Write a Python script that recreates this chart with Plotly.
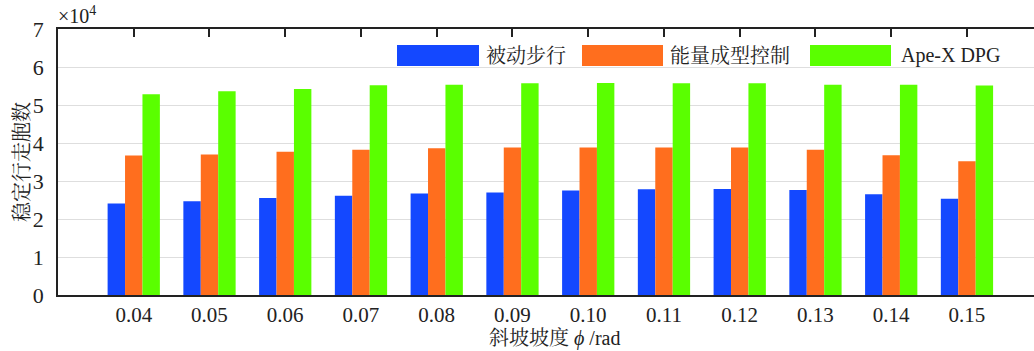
import plotly.graph_objects as go

# ---- data (units of 10^4 runs) ----
slopes = ["0.04", "0.05", "0.06", "0.07", "0.08", "0.09", "0.10", "0.11", "0.12", "0.13", "0.14", "0.15"]
passive = [2.41, 2.47, 2.55, 2.61, 2.67, 2.70, 2.75, 2.78, 2.79, 2.76, 2.65, 2.53]
energy = [3.67, 3.70, 3.77, 3.82, 3.86, 3.88, 3.88, 3.88, 3.88, 3.82, 3.68, 3.52]
apex = [5.28, 5.36, 5.42, 5.52, 5.53, 5.57, 5.58, 5.57, 5.57, 5.53, 5.53, 5.51]
series_names = ["被动步行", "能量成型控制", "Ape-X DPG"]
y_ticks = [0, 1, 2, 3, 4, 5, 6, 7]

colors = ["#1448FF", "#FF6E1E", "#5AFF00"]
FONT = "Liberation Serif, 'Noto Serif CJK SC', 'Noto Sans CJK SC', serif"

W, H = 1034, 351
L, R, T, B = 58, 0, 29, 56
pw, ph = W - L - R, H - T - B

fig = go.Figure()
for name, vals, c in zip(series_names, [passive, energy, apex], colors):
    fig.add_trace(go.Bar(x=slopes, y=vals, name=name, marker=dict(color=c, line=dict(width=0)),
                         showlegend=False, hoverinfo="skip"))

fig.update_layout(
    width=W, height=H,
    margin=dict(l=L, r=R, t=T, b=B, pad=0),
    paper_bgcolor="white", plot_bgcolor="white",
    barmode="group", bargap=0.31, bargroupgap=0,
    font=dict(family=FONT, size=20, color="#222"),
    showlegend=False,
    xaxis=dict(type="category", range=[-1.0, 11.885], showline=True, linecolor="#222", linewidth=1.5,
               mirror="ticks", ticks="inside", ticklen=8, tickwidth=1.5, tickcolor="#222",
               layer="below traces", showgrid=False, tickfont=dict(size=21), automargin=False),
    yaxis=dict(range=[0, 7], tickvals=y_ticks, ticktext=[str(v) for v in y_ticks],
               showline=True, linecolor="#222", linewidth=1.5, ticks="", showgrid=True,
               gridcolor="#dedede", gridwidth=1, zeroline=False, layer="below traces",
               tickfont=dict(size=22), ticklabelstandoff=8, automargin=False),
)

def px_x(p):
    return (p - L) / pw

def px_y(p):
    return (H - B - p) / ph

# custom legend (wide colour boxes)
legend_px = [(397, 479, 484), (582, 663, 668), (810, 891, 899)]
for (x0, x1, tx), name, c in zip(legend_px, series_names, colors):
    fig.add_shape(type="rect", xref="paper", yref="paper", x0=px_x(x0), x1=px_x(x1),
                  y0=px_y(66), y1=px_y(45), fillcolor=c, line=dict(width=0))
    fig.add_annotation(xref="paper", yref="paper", x=px_x(tx), y=px_y(55.5), text=name,
                       showarrow=False, xanchor="left", yanchor="middle", font=dict(size=20))

# axis titles and exponent
fig.add_annotation(xref="paper", yref="paper", x=px_x(554), y=px_y(339), text="斜坡坡度 <i>ϕ</i> /rad",
                   showarrow=False, xanchor="center", yanchor="middle", font=dict(size=20))
fig.add_annotation(xref="paper", yref="paper", x=px_x(22), y=px_y(162), text="稳定行走胞数",
                   showarrow=False, textangle=-90, xanchor="center", yanchor="middle", font=dict(size=20))
fig.add_annotation(xref="paper", yref="paper", x=px_x(56), y=px_y(15), text="×10<sup>4</sup>",
                   showarrow=False, xanchor="left", yanchor="middle", font=dict(size=20))

fig.write_html("out.html", config={"displayModeBar": False},
               post_script="document.body.style.margin='0px';")
